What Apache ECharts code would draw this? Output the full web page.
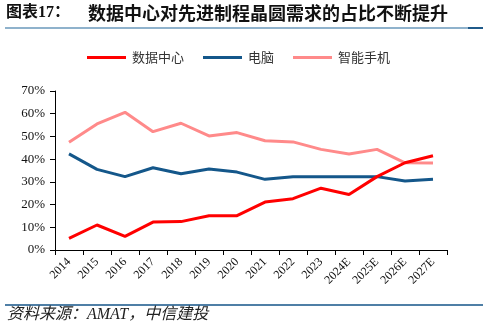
<!DOCTYPE html>
<html><head><meta charset="utf-8">
<script src="https://cdn.jsdelivr.net/npm/echarts@6/dist/echarts.min.js"></script>
<style>html,body{margin:0;padding:0;background:#fff}#c{width:489px;height:334px}</style>
</head><body><div id="c"></div>
<script>
const categories = ['2014','2015','2016','2017','2018','2019','2020','2021','2022','2023','2024E','2025E','2026E','2027E'];
const dataCenter = [5.1, 11.0, 6.0, 12.3, 12.5, 15.1, 15.1, 21.1, 22.6, 27.2, 24.4, 32.3, 38.4, 41.5];
const pc = [42.3, 35.5, 32.3, 36.2, 33.6, 35.7, 34.3, 31.1, 32.3, 32.3, 32.3, 32.3, 30.4, 31.1];
const phone = [47.4, 55.5, 60.6, 52.1, 55.8, 50.2, 51.7, 48.1, 47.6, 44.3, 42.3, 44.3, 38.4, 38.3];
const yTicks = [0, 10, 20, 30, 40, 50, 60, 70];
const seriesNames = ['数据中心', '电脑', '智能手机'];
const colors = ['#FF0000', '#14578A', '#FF8A8A'];

const chart = echarts.init(document.getElementById('c'), null, {renderer: 'canvas'});
const serif = '"Liberation Serif","Times New Roman",serif';
const cjk = '"Noto Sans CJK SC",sans-serif';
chart.setOption({
  animation: false,
  color: colors,
  legend: {
    top: 46, left: 82,
    itemWidth: 39, itemHeight: 3, itemGap: 19,
    icon: 'rect',
    textStyle: {fontSize: 13, color: '#333', fontFamily: cjk, padding: [0, 0, 0, 1]},
    data: seriesNames
  },
  grid: {left: 55, right: 42, top: 91, bottom: 84, containLabel: false},
  xAxis: {
    type: 'category', data: categories, boundaryGap: true,
    axisLine: {lineStyle: {color: '#000', width: 1}},
    axisTick: {show: true, length: 5, lineStyle: {color: '#000'}},
    axisLabel: {rotate: 45, fontSize: 12, color: '#111', fontFamily: serif, margin: 10, interval: 0}
  },
  yAxis: {
    type: 'value', min: 0, max: 70, interval: 10,
    axisLine: {show: true, lineStyle: {color: '#000', width: 1}},
    axisTick: {show: true, length: 5, lineStyle: {color: '#000'}},
    splitLine: {show: false},
    axisLabel: {fontSize: 13, color: '#111', fontFamily: serif, margin: 10,
      formatter: v => yTicks.includes(v) ? v + '%' : ''}
  },
  series: [
    {name: seriesNames[0], type: 'line', data: dataCenter, symbol: 'none', lineStyle: {width: 3, color: colors[0]}, z: 4},
    {name: seriesNames[1], type: 'line', data: pc, symbol: 'none', lineStyle: {width: 3, color: colors[1]}, z: 3},
    {name: seriesNames[2], type: 'line', data: phone, symbol: 'none', lineStyle: {width: 3, color: colors[2]}, z: 2}
  ],
  graphic: [
    {type: 'text', left: 6, top: 5, style: {text: '图表17：', font: 'bold 16px "Liberation Serif","Noto Sans CJK SC",serif', fill: '#111'}},
    {type: 'text', left: 88, top: 4, style: {text: '数据中心对先进制程晶圆需求的占比不断提升', font: 'bold 18px "Noto Sans CJK SC",sans-serif', fill: '#111'}},
    {type: 'rect', shape: {x: 5, y: 27, width: 478, height: 2}, style: {fill: '#8FB2CC'}},
    {type: 'rect', shape: {x: 468, y: 27, width: 15, height: 2}, style: {fill: '#1F5A8A'}},
    {type: 'rect', shape: {x: 5, y: 304, width: 478, height: 2}, style: {fill: '#4F7FA6'}},
    {type: 'text', left: 7, top: 307, style: {text: '资料来源：AMAT，中信建投', fill: '#222', font: 'italic 16px "Liberation Serif","Noto Sans CJK SC",serif'}}
  ]
});
</script></body></html>
